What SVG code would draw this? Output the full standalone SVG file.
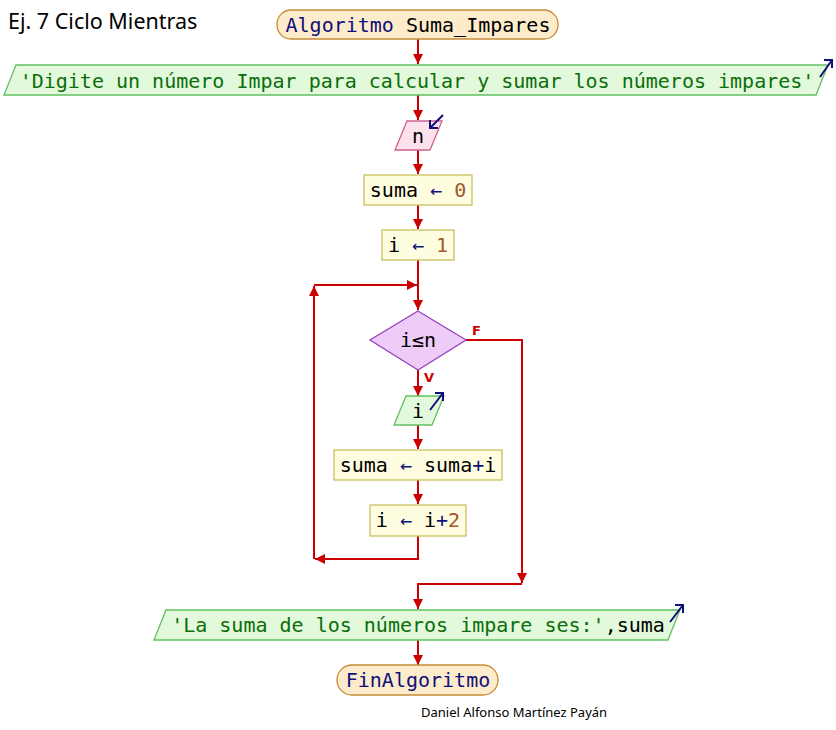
<svg xmlns="http://www.w3.org/2000/svg" width="836" height="730" viewBox="0 0 836 730">
  <style>
    .code { font-family: "DejaVu Sans Mono", "Liberation Mono", monospace; font-size: 20px; fill: #000; }
    .kw { fill: #10107a; }
    .op { fill: #10107a; }
    .num { fill: #a0582a; }
    .str { fill: #0a6e0a; }
    .term { fill: #fdeccb; stroke: #c98a3a; stroke-width: 1.3; }
    .out { fill: #e2f9dc; stroke: #62c062; stroke-width: 1.3; }
    .inp { fill: #fde2ee; stroke: #d0608e; stroke-width: 1.3; }
    .proc { fill: #fefde0; stroke: #c8c060; stroke-width: 1.3; }
    .dec { fill: #edcdf8; stroke: #9a40c0; stroke-width: 1.3; }
    .wire { fill: none; stroke: #cc0000; stroke-width: 2; }
    .io { fill: none; stroke: #10107a; stroke-width: 2; }
    .lbl { font-family: "DejaVu Sans", "Liberation Sans", sans-serif; font-size: 13px; font-weight: bold; fill: #cc0000; }
    .note { font-family: "Noto Sans", "Open Sans", sans-serif; fill: #000; }
  </style>
  <defs>
    <marker id="ah" markerUnits="userSpaceOnUse" markerWidth="12" markerHeight="10" refX="10" refY="5" orient="auto">
      <path d="M0,0 L10,5 L0,10 Z" fill="#cc0000"/>
    </marker>
  </defs>

  <text class="note" x="8" y="29" font-size="21.5">Ej. 7 Ciclo Mientras</text>

  <!-- connectors -->
  <g id="connectors">
    <path class="wire" d="M418,39 V64" marker-end="url(#ah)"/>
    <path class="wire" d="M418,95 V120" marker-end="url(#ah)"/>
    <path class="wire" d="M418,150 V174" marker-end="url(#ah)"/>
    <path class="wire" d="M418,205 V229" marker-end="url(#ah)"/>
    <path class="wire" d="M418,260 V310" marker-end="url(#ah)"/>
    <path class="wire" d="M314,285 H417" marker-end="url(#ah)"/>
    <path class="wire" d="M418,370 V396" marker-end="url(#ah)"/>
    <path class="wire" d="M418,425 V449" marker-end="url(#ah)"/>
    <path class="wire" d="M418,480 V504" marker-end="url(#ah)"/>
    <path class="wire" d="M418,536 V559 H315" marker-end="url(#ah)"/>
    <path class="wire" d="M314,559 V286" marker-end="url(#ah)"/>
    <path class="wire" d="M466,340 H522 V583" marker-end="url(#ah)"/>
    <path class="wire" d="M522,584 H418 V609" marker-end="url(#ah)"/>
    <path class="wire" d="M418,640 V665" marker-end="url(#ah)"/>
    <text class="lbl" x="472" y="335">F</text>
    <text class="lbl" x="424" y="382">V</text>
  </g>

  <g id="start">
    <rect class="term" x="277" y="10" width="281" height="29" rx="14" ry="14"/>
    <text class="code" x="418" y="32" text-anchor="middle"><tspan class="kw">Algoritmo</tspan> Suma_Impares</text>
  </g>

  <g id="out_prompt">
    <polygon class="out" points="16,65 828,65 816,95 4,95"/>
    <text class="code str" x="417" y="88" text-anchor="middle">'Digite un número Impar para calcular y sumar los números impares'</text>
    <path class="io" d="M820,77 L832,60 M824,60 H832 V68"/>
  </g>

  <g id="read_n">
    <polygon class="inp" points="407,121 442,121 430,150 395,150"/>
    <text class="code" x="418" y="143" text-anchor="middle">n</text>
    <path class="io" d="M443,115 L430,128 M430,120 V128 H438"/>
  </g>

  <g id="init_suma">
    <rect class="proc" x="364" y="175" width="108" height="30"/>
    <text class="code" x="418" y="197" text-anchor="middle">suma <tspan class="op">←</tspan> <tspan class="num">0</tspan></text>
  </g>

  <g id="init_i">
    <rect class="proc" x="382" y="230" width="72" height="30"/>
    <text class="code" x="418" y="252" text-anchor="middle">i <tspan class="op">←</tspan> <tspan class="num">1</tspan></text>
  </g>

  <g id="cond">
    <polygon class="dec" points="418,311 466,340 418,370 370,340"/>
    <text class="code" x="418" y="347" text-anchor="middle">i≤n</text>
  </g>

  <g id="out_i">
    <polygon class="out" points="406,396 444,396 432,425 394,425"/>
    <text class="code" x="418" y="418" text-anchor="middle">i</text>
    <path class="io" d="M430,410 L443,393 M435,393 H443 V401"/>
  </g>

  <g id="acc_suma">
    <rect class="proc" x="334" y="450" width="168" height="30"/>
    <text class="code" x="418" y="472" text-anchor="middle">suma <tspan class="op">←</tspan> suma<tspan class="op">+</tspan>i</text>
  </g>

  <g id="step_i">
    <rect class="proc" x="370" y="505" width="96" height="31"/>
    <text class="code" x="418" y="527" text-anchor="middle">i <tspan class="op">←</tspan> i<tspan class="op">+</tspan><tspan class="num">2</tspan></text>
  </g>

  <g id="out_result">
    <polygon class="out" points="166,610 680,610 668,640 154,640"/>
    <text class="code" x="418" y="632" text-anchor="middle"><tspan class="str">'La suma de los números impare ses:'</tspan>,suma</text>
    <path class="io" d="M670,622 L683,605 M675,605 H683 V613"/>
  </g>

  <g id="end">
    <rect class="term" x="337" y="665" width="161" height="30" rx="15" ry="15"/>
    <text class="code kw" x="418" y="687" text-anchor="middle">FinAlgoritmo</text>
  </g>

  <text class="note" x="421" y="717" font-size="13">Daniel Alfonso Martínez Payán</text>
</svg>
